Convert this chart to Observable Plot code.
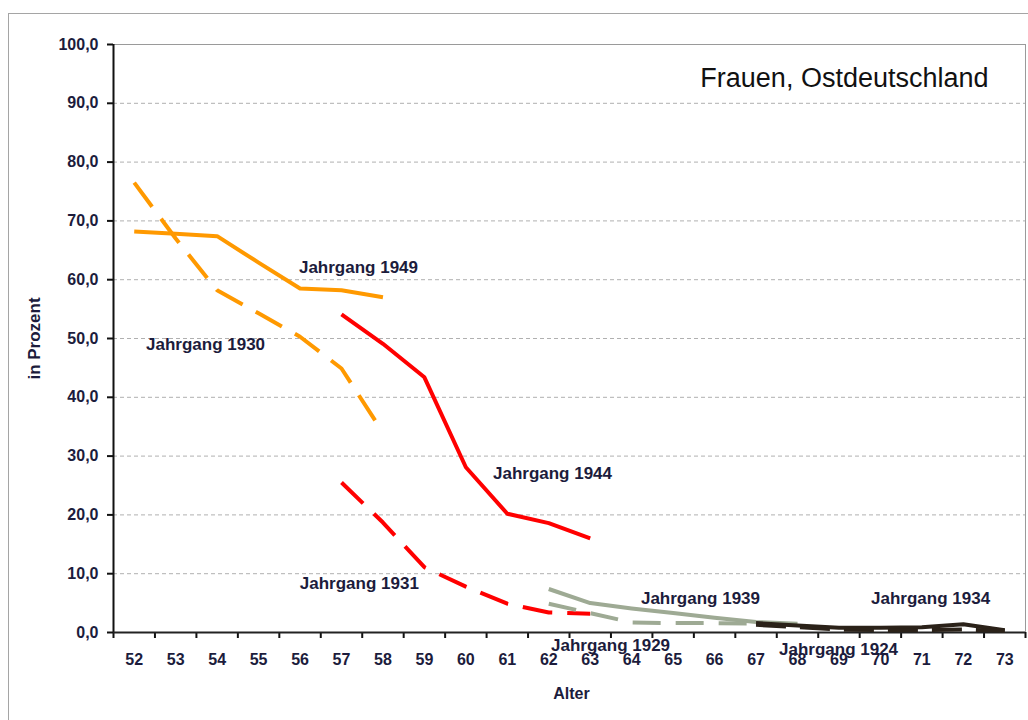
<!DOCTYPE html>
<html>
<head>
<meta charset="utf-8">
<script src="https://cdn.jsdelivr.net/npm/d3@7"></script>
<script src="https://cdn.jsdelivr.net/npm/@observablehq/plot@0.6"></script>
<style>
  html, body { margin: 0; padding: 0; background: #fff; }
  #wrap { position: relative; width: 1028px; height: 720px; overflow: hidden; }
  #outer { position: absolute; left: 8px; top: 13px; width: 1100px; height: 800px; border: 1px solid #a5a5a5; pointer-events: none; }
  svg { display: block; }
</style>
</head>
<body>
<div id="wrap"><div id="outer"></div></div>
<script>
const title = "Frauen, Ostdeutschland";
const yLabel = "in Prozent";
const xLabel = "Alter";

const ages = [52,53,54,55,56,57,58,59,60,61,62,63,64,65,66,67,68,69,70,71,72,73];
const yTicks = [0,10,20,30,40,50,60,70,80,90,100];

const ages1949 = [52,53,54,55,56,57,58];
const v1949 = [68.2, 67.8, 67.4, 62.9, 58.5, 58.2, 57.0];
const v1930 = [76.5, 67.0, 58.2, 54.3, 50.3, 44.9, 34.0];

const ages1944 = [57,58,59,60,61,62,63];
const v1944 = [54.1, 49.1, 43.4, 28.1, 20.2, 18.6, 16.0];
const v1931 = [25.5, 18.7, 11.1, 7.8, 4.9, 3.4, 3.2];

const ages1939 = [62,63,64,65,66,67,68];
const v1939 = [7.4, 5.0, 4.1, 3.3, 2.5, 1.8, 1.5];
const v1929 = [4.9, 3.3, 1.7, 1.6, 1.6, 1.5, 1.4];

const ages1934 = [67,68,69,70,71,72,73];
const v1934 = [1.6, 1.2, 0.8, 0.8, 0.9, 1.4, 0.4];
const v1924 = [1.3, 0.9, 0.5, 0.4, 0.4, 0.5, 0.3];

const labelNames = ["Jahrgang 1949","Jahrgang 1930","Jahrgang 1944","Jahrgang 1931","Jahrgang 1939","Jahrgang 1934","Jahrgang 1929","Jahrgang 1924"];
const labelAges  = [57.41, 53.72, 62.09, 57.43, 65.66, 71.21, 63.49, 68.99];
const labelVals  = [62.1, 49.0, 27.0, 8.3, 5.8, 5.8, -2.2, -2.9];

const series = [
  {ages: ages1949, vals: v1949, color: "#ff9900", dash: null},
  {ages: ages1949, vals: v1930, color: "#ff9900", dash: "30,15"},
  {ages: ages1944, vals: v1944, color: "#ff0000", dash: null},
  {ages: ages1944, vals: v1931, color: "#ff0000", dash: "30,15"},
  {ages: ages1939, vals: v1939, color: "#9eaa94", dash: null},
  {ages: ages1939, vals: v1929, color: "#9eaa94", dash: "28,15"},
  {ages: ages1934, vals: v1934, color: "#2b2219", dash: null},
  {ages: ages1934, vals: v1924, color: "#2b2219", dash: "30,14"}
];

const font = "'Liberation Sans', Arial, sans-serif";
const textColor = "#1c1c3c";
const bounds = d3.range(51.5, 74, 1);
const fmt = d => d.toFixed(1).replace(".", ",");

const lineMarks = series.map(s =>
  Plot.line(s.ages.map((a, i) => ({age: a, value: s.vals[i]})), {
    x: "age", y: "value", stroke: s.color, strokeWidth: 4,
    strokeDasharray: s.dash, strokeLinejoin: "round", strokeLinecap: "butt"
  })
);

const chart = Plot.plot({
  width: 1028, height: 720,
  marginLeft: 113, marginRight: 3, marginTop: 44, marginBottom: 88,
  x: {domain: [51.5, 73.5]},
  y: {domain: [0, 100]},
  style: {fontFamily: font, background: "transparent", color: textColor},
  marks: [
    Plot.gridY(yTicks.slice(1, -1), {stroke: "#b0b0b0", strokeOpacity: 1, strokeDasharray: "4,3"}),
    Plot.frame({stroke: "#9a9a9a"}),
    Plot.axisY(yTicks, {tickSize: 6, tickPadding: 9, tickFormat: fmt, fontSize: 16, fontWeight: "bold", stroke: "#111", strokeWidth: 2, label: null}),
    Plot.axisX(bounds, {tickSize: 6, tickFormat: () => "", stroke: "#111", strokeWidth: 2, label: null}),
    Plot.axisX(ages, {tickSize: 0, tickPadding: 21, fontSize: 16, fontWeight: "bold", label: null}),
    Plot.ruleX([51.5], {stroke: "#111", strokeWidth: 2}),
    Plot.ruleY([0], {stroke: "#222", strokeWidth: 2}),
    ...lineMarks,
    Plot.text(labelNames, {x: (d, i) => labelAges[i], y: (d, i) => labelVals[i], text: d => d, fontSize: 17, fontWeight: "bold", fill: textColor}),
    Plot.text([title], {frameAnchor: "top-right", textAnchor: "end", lineAnchor: "middle", dx: -37, dy: 34, fontSize: 27, fill: "#111"}),
    Plot.text([yLabel], {frameAnchor: "left", rotate: -90, textAnchor: "middle", lineAnchor: "middle", dx: -79, fontSize: 17, fontWeight: "bold", fill: textColor}),
    Plot.text([xLabel], {frameAnchor: "bottom", textAnchor: "middle", lineAnchor: "middle", dx: 2, dy: 61, fontSize: 16, fontWeight: "bold", fill: textColor})
  ]
});
document.getElementById("wrap").prepend(chart);
</script>
</body>
</html>
